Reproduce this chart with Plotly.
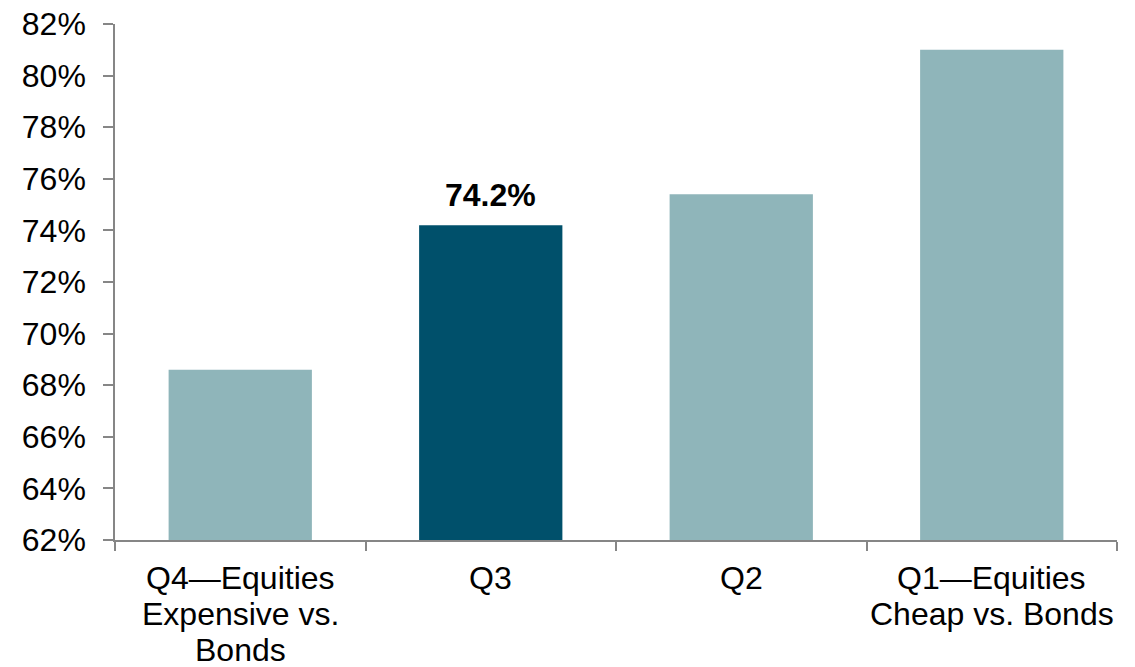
import plotly.graph_objects as go

# Share of outcomes by equity/bond valuation quartile
categories = ["Q4", "Q3", "Q2", "Q1"]
category_labels = [
    ["Q4\u2014Equities", "Expensive vs.", "Bonds"],
    ["Q3"],
    ["Q2"],
    ["Q1\u2014Equities", "Cheap vs. Bonds"],
]
values = [68.6, 74.2, 75.4, 81.0]
highlight_index = 1

tick_values = list(range(62, 84, 2))
tick_labels = [f"{v}%" for v in tick_values]

light = "#8FB5BA"
dark = "#00506B"
axis_gray = "#868686"
font_family = "Liberation Sans, Arial, sans-serif"
font_size = 32
line_step = 36

colors = [dark if i == highlight_index else light for i in range(len(values))]

fig = go.Figure(
    go.Bar(
        x=categories,
        y=values,
        marker=dict(color=colors, line=dict(width=0)),
        width=0.572,
        hoverinfo="skip",
    )
)

# value label above the highlighted bar
fig.add_annotation(
    x=categories[highlight_index],
    y=values[highlight_index],
    text=f"<b>{values[highlight_index]:.1f}%</b>",
    showarrow=False,
    yanchor="bottom",
    yshift=10,
    font=dict(family=font_family, size=font_size, color="#000000"),
)

# multi-line category labels under the axis, with tighter line spacing
for cat, lines in zip(categories, category_labels):
    for j, line in enumerate(lines):
        fig.add_annotation(
            x=cat,
            y=0,
            yref="paper",
            text=line,
            showarrow=False,
            yanchor="top",
            yshift=-(18 + j * line_step),
            font=dict(family=font_family, size=font_size, color="#000000"),
        )

fig.update_layout(
    width=1135,
    height=667,
    margin=dict(l=115, r=18, t=23.5, b=126.5),
    paper_bgcolor="white",
    plot_bgcolor="white",
    showlegend=False,
    font=dict(family=font_family, size=font_size, color="#000000"),
)

fig.update_xaxes(
    type="category",
    range=[-0.5, 3.5],
    showline=True,
    linecolor=axis_gray,
    linewidth=1.5,
    ticks="outside",
    tickson="boundaries",
    ticklen=9,
    tickwidth=1.5,
    tickcolor=axis_gray,
    showgrid=False,
    showticklabels=False,
    automargin=False,
)

fig.update_yaxes(
    range=[62, 82],
    tickvals=tick_values,
    ticktext=tick_labels,
    showline=True,
    linecolor=axis_gray,
    linewidth=1.5,
    ticks="outside",
    ticklen=10,
    tickwidth=1.5,
    tickcolor=axis_gray,
    showgrid=False,
    zeroline=False,
    tickfont=dict(family=font_family, size=font_size, color="#000000"),
    ticklabelstandoff=11,
    automargin=False,
)

fig.write_html("out.html")
